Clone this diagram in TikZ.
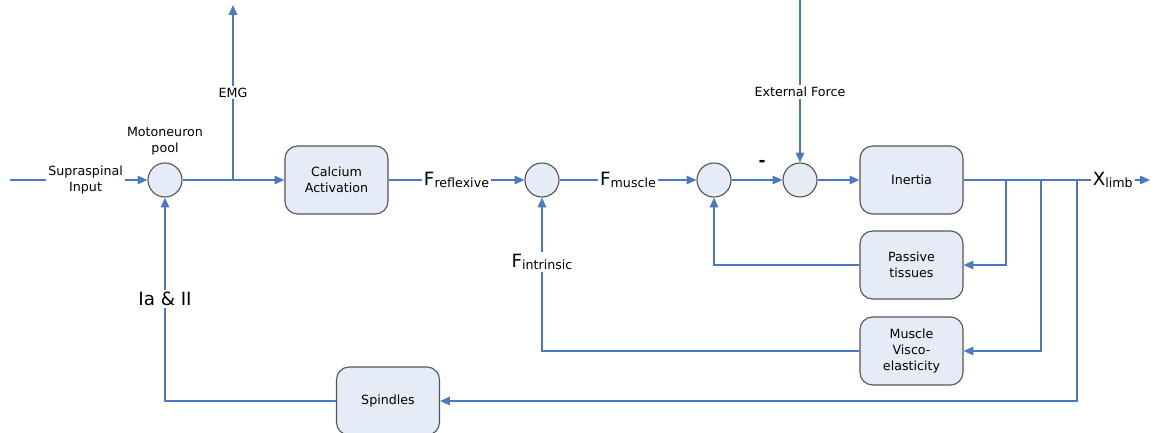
\documentclass[tikz,border=0pt]{standalone}
\usepackage{fontspec}
\setmainfont{DejaVu Sans}
\usetikzlibrary{arrows.meta, positioning, calc}

\definecolor{wireblue}{RGB}{72,122,196}
\definecolor{boxfill}{RGB}{230,236,247}
\definecolor{boxline}{RGB}{85,85,85}

\newcommand{\bigF}[1]{{\fontsize{13}{15}\selectfont F}\raisebox{-0.35ex}{#1}}

\begin{document}
\begin{tikzpicture}[x=0.025cm, y=-0.025cm, >={Triangle[length=7pt,width=6pt]},
  every node/.style={font=\fontsize{9}{11.3}\selectfont},
  block/.style={draw=boxline, line width=0.8pt, fill=boxfill, rounded corners=9pt,
    minimum width=2.575cm, minimum height=1.7cm, align=center},
  sumpt/.style={circle, draw=boxline, line width=0.8pt, fill=boxfill,
    minimum size=0.85cm, inner sep=0pt},
  wire/.style={draw=wireblue, line width=1.1pt},
  lbl/.style={fill=white, inner sep=1.5pt, align=center}]
  \useasboundingbox (0,0) rectangle (1156,433);

  % summing points and blocks
  \node[sumpt] (pool) at (165,180) {};
  \node[block] (calcium) at (336.5,180) {Calcium\\Activation};
  \node[sumpt] (sumforce) at (542,180) {};
  \node[sumpt] (sumpass) at (714,180) {};
  \node[sumpt] (sumext) at (800,180) {};
  \node[block] (inertia) at (911.5,180) {Inertia};
  \node[block] (passive) at (911.5,265) {Passive\\tissues};
  \node[block] (visco) at (911.5,351) {Muscle\\Visco-\\elasticity};
  \node[block] (spindles) at (388,401) {Spindles};
  \node[align=center, above=2pt of pool] (poollbl) {Motoneuron\\pool};

  \coordinate (supra) at (10,180);
  \coordinate (emgsplit) at (233,180);
  \coordinate (emgtop) at (233,5);
  \coordinate (extforce) at (800,0);
  \coordinate (xout) at (1150,180);
  \coordinate (tappass) at (1006,180);
  \coordinate (tapvisco) at (1041,180);
  \coordinate (tapspin) at (1077,180);

  % forward path
  \draw[wire,->] (supra) -- node[lbl, pos=0.55] {Supraspinal\\Input} (pool);
  \draw[wire] (pool) -- (emgsplit);
  \draw[wire,->] (emgsplit) -- (calcium);
  \draw[wire,->] (emgsplit) -- node[lbl] {EMG} (emgtop);
  \draw[wire,->] (calcium) -- node[lbl] {\bigF{reflexive}} (sumforce);
  \draw[wire,->] (sumforce) -- node[lbl] {\bigF{muscle}} (sumpass);
  \draw[wire,->] (sumpass) -- node[above=6pt, pos=0.6, font=\fontsize{12}{14}\selectfont\bfseries] {-} (sumext);
  \draw[wire,->] (extforce) -- node[lbl, pos=0.565] {External Force} (sumext);
  \draw[wire,->] (sumext) -- (inertia);
  \draw[wire,->] (inertia) -- node[lbl, pos=0.8] {{\fontsize{13}{15}\selectfont X}\raisebox{-0.35ex}{limb}} (xout);

  % feedback paths
  \draw[wire,->] (tappass) |- (passive);
  \draw[wire,->] (tapvisco) |- (visco);
  \draw[wire,->] (tapspin) |- (spindles);
  \draw[wire,->] (passive) -| (sumpass);
  \draw[wire,->] (visco) -| node[lbl, pos=0.79] {\bigF{intrinsic}} (sumforce);
  \draw[wire,->] (spindles) -| node[lbl, pos=0.75, font=\fontsize{13}{15}\selectfont] {Ia \& II} (pool);
\end{tikzpicture}
\end{document}
